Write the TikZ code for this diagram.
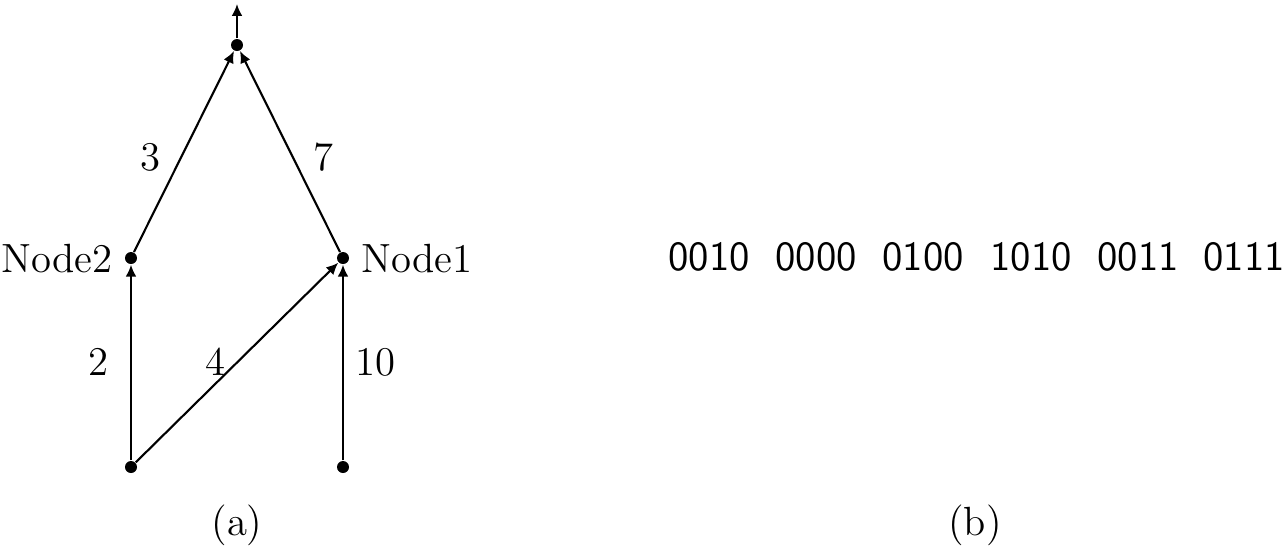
\documentclass[tikz,border=0pt]{standalone}
\usepackage{fontspec}
\usetikzlibrary{arrows.meta}
\begin{document}
\begin{tikzpicture}[x=0.01cm,y=-0.01cm,
  dot/.style={circle,fill=black,inner sep=0pt,minimum size=12*0.01cm},
  edge/.style={line width=0.6pt,-{Latex[length=3.4pt,width=3.1pt]}},
  lbl/.style={font=\fontsize{11.6}{14}\selectfont,inner sep=0pt},
  bits/.style={font=\sffamily\fontsize{11.8}{13}\selectfont,inner sep=0pt}]
\useasboundingbox (0,0) rectangle (1287,553);
\node[dot] (top) at (237,45) {};
\coordinate (out) at (237,4);
\node[dot] (n2) at (131,258) {};
\node[dot] (n1) at (343,258) {};
\node[dot] (bl) at (131,467) {};
\node[dot] (br) at (343,467) {};
\draw[edge] (top) -- (out);
\draw[edge] (n2) -- (top);
\draw[edge] (n1) -- (top);
\draw[edge] (bl) -- (n2);
\draw[edge] (bl) -- (n1);
\draw[edge] (br) -- (n1);
\node[lbl,anchor=east] at (113,259) {Node2};
\node[lbl,anchor=west] at (361,259) {Node1};
\node[lbl] at (150,157) {3};
\node[lbl] at (323,157) {7};
\node[lbl] at (98,362) {2};
\node[lbl] at (215,362) {4};
\node[lbl] at (375,362) {10};
\node[lbl] at (237,525) {(a)};
\node[lbl] at (975,525) {(b)};
\node[bits] at (709,257) {0010};
\node[bits] at (816,257) {0000};
\node[bits] at (923,257) {0100};
\node[bits] at (1031,257) {1010};
\node[bits] at (1138,257) {0011};
\node[bits] at (1244,257) {0111};
\end{tikzpicture}
\end{document}
